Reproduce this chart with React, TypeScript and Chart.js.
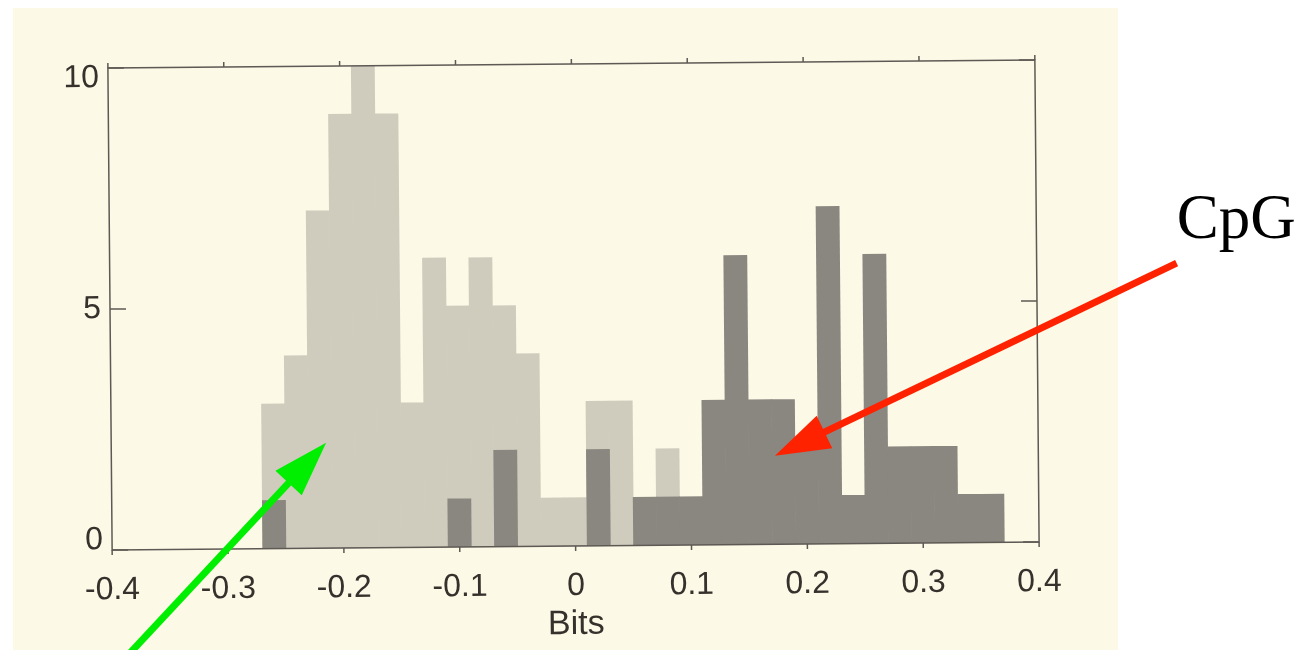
import React, { useEffect, useRef } from 'react';
import { Chart, registerables } from 'chart.js';

Chart.register(...registerables);

// Histogram bins (bin centre, in bits; bin width 0.02)
const BIN_CENTERS = [
  -0.26, -0.24, -0.22, -0.2, -0.18, -0.16, -0.14, -0.12, -0.1, -0.08, -0.06,
  -0.04, -0.02, 0.0, 0.02, 0.04, 0.06, 0.08, 0.1, 0.12, 0.14, 0.16, 0.18, 0.2,
  0.22, 0.24, 0.26, 0.28, 0.3, 0.32, 0.34, 0.36,
];
// Non-CpG (light grey) counts
const NON_CPG_COUNTS = [
  3, 4, 7, 9, 10, 9, 3, 6, 5, 6, 5, 4, 1, 1, 3, 3, 0, 2, 0, 0, 0, 0, 0, 0, 0, 0,
  0, 0, 0, 0, 0, 0,
];
// CpG (dark grey) counts
const CPG_COUNTS = [
  1, 0, 0, 0, 0, 0, 0, 0, 1, 0, 2, 0, 0, 0, 2, 0, 1, 1, 1, 3, 6, 3, 3, 2, 7, 1,
  6, 2, 2, 2, 1, 1,
];

const X_TICKS = [-0.4, -0.3, -0.2, -0.1, 0, 0.1, 0.2, 0.3, 0.4];
const X_TICK_LABELS = ['-0.4', '-0.3', '-0.2', '-0.1', '0', '0.1', '0.2', '0.3', '0.4'];
const Y_TICKS = [0, 5, 10];
const Y_TICK_LABELS = ['0', '5', '10'];
const X_TITLE = 'Bits';

// Annotations (data units: bits, count)
const CPG_LABEL = 'CpG';
const CPG_LABEL_AT = [0.5205, 6.39];
const RED_ARROW_FROM = [0.5205, 5.87];
const RED_ARROW_TO = [0.1738, 1.87];
const GREEN_ARROW_FROM = [-0.3963, -2.57];
const GREEN_ARROW_TO = [-0.2135, 2.14];

const TILT = -0.0088;
const SANS = '"Liberation Sans", Arial, Helvetica, sans-serif';
const INK = '#36312c';

function drawArrow(ctx: CanvasRenderingContext2D, x1: number, y1: number, x2: number, y2: number, color: string) {
  const ang = Math.atan2(y2 - y1, x2 - x1);
  const L = 55;
  const W = 18;
  const c = Math.cos(ang);
  const s = Math.sin(ang);
  const bx = x2 - L * c;
  const by = y2 - L * s;
  ctx.save();
  ctx.strokeStyle = color;
  ctx.lineWidth = 7;
  ctx.lineCap = 'butt';
  ctx.beginPath();
  ctx.moveTo(x1, y1);
  ctx.lineTo(bx + 6 * c, by + 6 * s);
  ctx.stroke();
  ctx.fillStyle = color;
  ctx.beginPath();
  ctx.moveTo(x2, y2);
  ctx.lineTo(bx + W * s, by - W * c);
  ctx.lineTo(bx - W * s, by + W * c);
  ctx.closePath();
  ctx.fill();
  ctx.restore();
}

const scanPlugin = {
  id: 'scanLook',
  beforeDraw(chart: any) {
    const ctx = chart.ctx as CanvasRenderingContext2D;
    ctx.save();
    ctx.fillStyle = '#ffffff';
    ctx.fillRect(0, 0, chart.width, chart.height);
    ctx.fillStyle = '#fcf9e6';
    ctx.fillRect(13, 8, 1105, chart.height - 8);
    ctx.restore();
    const ca = chart.chartArea;
    const cx = (ca.left + ca.right) / 2;
    const cy = (ca.top + ca.bottom) / 2;
    ctx.save();
    ctx.translate(cx, cy);
    ctx.rotate(TILT);
    ctx.translate(-cx, -cy);
  },
  afterDraw(chart: any) {
    const ctx = chart.ctx as CanvasRenderingContext2D;
    const { left, right, top, bottom } = chart.chartArea;
    const xs = chart.scales.x;
    const ys = chart.scales.y;
    ctx.save();
    ctx.strokeStyle = '#5e5954';
    ctx.lineWidth = 1.5;
    ctx.strokeRect(left, top, right - left, bottom - top);
    ctx.beginPath();
    X_TICKS.forEach((v) => {
      const px = xs.getPixelForValue(v);
      ctx.moveTo(px, bottom);
      ctx.lineTo(px, bottom + 5);
      ctx.moveTo(px, top);
      ctx.lineTo(px, top - 5);
    });
    Y_TICKS.forEach((v) => {
      const py = ys.getPixelForValue(v);
      ctx.moveTo(left, py);
      ctx.lineTo(left + 16, py);
      ctx.moveTo(right, py);
      ctx.lineTo(right - 16, py);
    });
    ctx.stroke();
    ctx.restore();
    ctx.restore(); // end of tilt

    const P = (p: number[]) => [xs.getPixelForValue(p[0]), ys.getPixelForValue(p[1])];
    const r1 = P(RED_ARROW_FROM);
    const r2 = P(RED_ARROW_TO);
    drawArrow(ctx, r1[0], r1[1], r2[0], r2[1], '#ff2200');
    const g1 = P(GREEN_ARROW_FROM);
    const g2 = P(GREEN_ARROW_TO);
    drawArrow(ctx, g1[0], g1[1], g2[0], g2[1], '#00ee00');
    const t = P(CPG_LABEL_AT);
    ctx.save();
    ctx.fillStyle = '#000000';
    ctx.font = '63px "Liberation Serif", "Times New Roman", serif';
    ctx.textAlign = 'left';
    ctx.textBaseline = 'alphabetic';
    ctx.fillText(CPG_LABEL, t[0], t[1]);
    ctx.restore();
  },
};

export default function App() {
  const ref = useRef<HTMLCanvasElement | null>(null);

  useEffect(() => {
    if (!ref.current) return;
    const chart = new Chart(ref.current, {
      type: 'bar',
      data: {
        datasets: [
          {
            label: 'CpG',
            data: BIN_CENTERS.map((x, i) => ({ x, y: CPG_COUNTS[i] })),
            backgroundColor: '#8a8780',
            borderWidth: 0,
            order: 1,
          },
          {
            label: 'non-CpG',
            data: BIN_CENTERS.map((x, i) => ({ x, y: NON_CPG_COUNTS[i] })),
            backgroundColor: '#cfccbe',
            borderWidth: 0,
            order: 2,
          },
        ],
      },
      options: {
        animation: false,
        responsive: false,
        devicePixelRatio: 1,
        grouped: false,
        barPercentage: 1,
        categoryPercentage: 1,
        layout: { padding: { left: 0, right: 265, top: 64, bottom: 0 } },
        plugins: { legend: { display: false }, tooltip: { enabled: false } },
        scales: {
          x: {
            type: 'linear',
            min: -0.4,
            max: 0.4,
            offset: false,
            grid: { display: false, drawTicks: false },
            border: { display: false },
            afterBuildTicks: (scale: any) => {
              scale.ticks = X_TICKS.map((v) => ({ value: v }));
            },
            afterFit: (scale: any) => {
              scale.height = 104;
            },
            ticks: {
              autoSkip: false,
              maxRotation: 0,
              padding: 21,
              color: INK,
              font: { family: SANS, size: 32 },
              callback: (_v: any, i: number) => X_TICK_LABELS[i],
            },
            title: {
              display: true,
              text: X_TITLE,
              color: INK,
              font: { family: SANS, size: 34 },
              padding: { top: 0, bottom: 5 },
            },
          },
          y: {
            type: 'linear',
            min: 0,
            max: 10,
            grid: { display: false, drawTicks: false },
            border: { display: false },
            afterBuildTicks: (scale: any) => {
              scale.ticks = Y_TICKS.map((v) => ({ value: v }));
            },
            afterFit: (scale: any) => {
              scale.width = 110;
            },
            ticks: {
              autoSkip: false,
              padding: 9,
              color: INK,
              font: { family: SANS, size: 32, lineHeight: '20px' },
              callback: (v: any, i: number) => {
                const label = Y_TICK_LABELS[i];
                if (v === 10) return ['', label];
                if (v === 0) return [label, ''];
                return label;
              },
            },
          },
        },
      },
      plugins: [scanPlugin],
    } as any);
    return () => chart.destroy();
  }, []);

  return (
    <div style={{ position: 'absolute', left: 0, top: 0, width: 1302, height: 650 }}>
      <canvas ref={ref} width={1302} height={650} style={{ display: 'block' }} />
    </div>
  );
}
